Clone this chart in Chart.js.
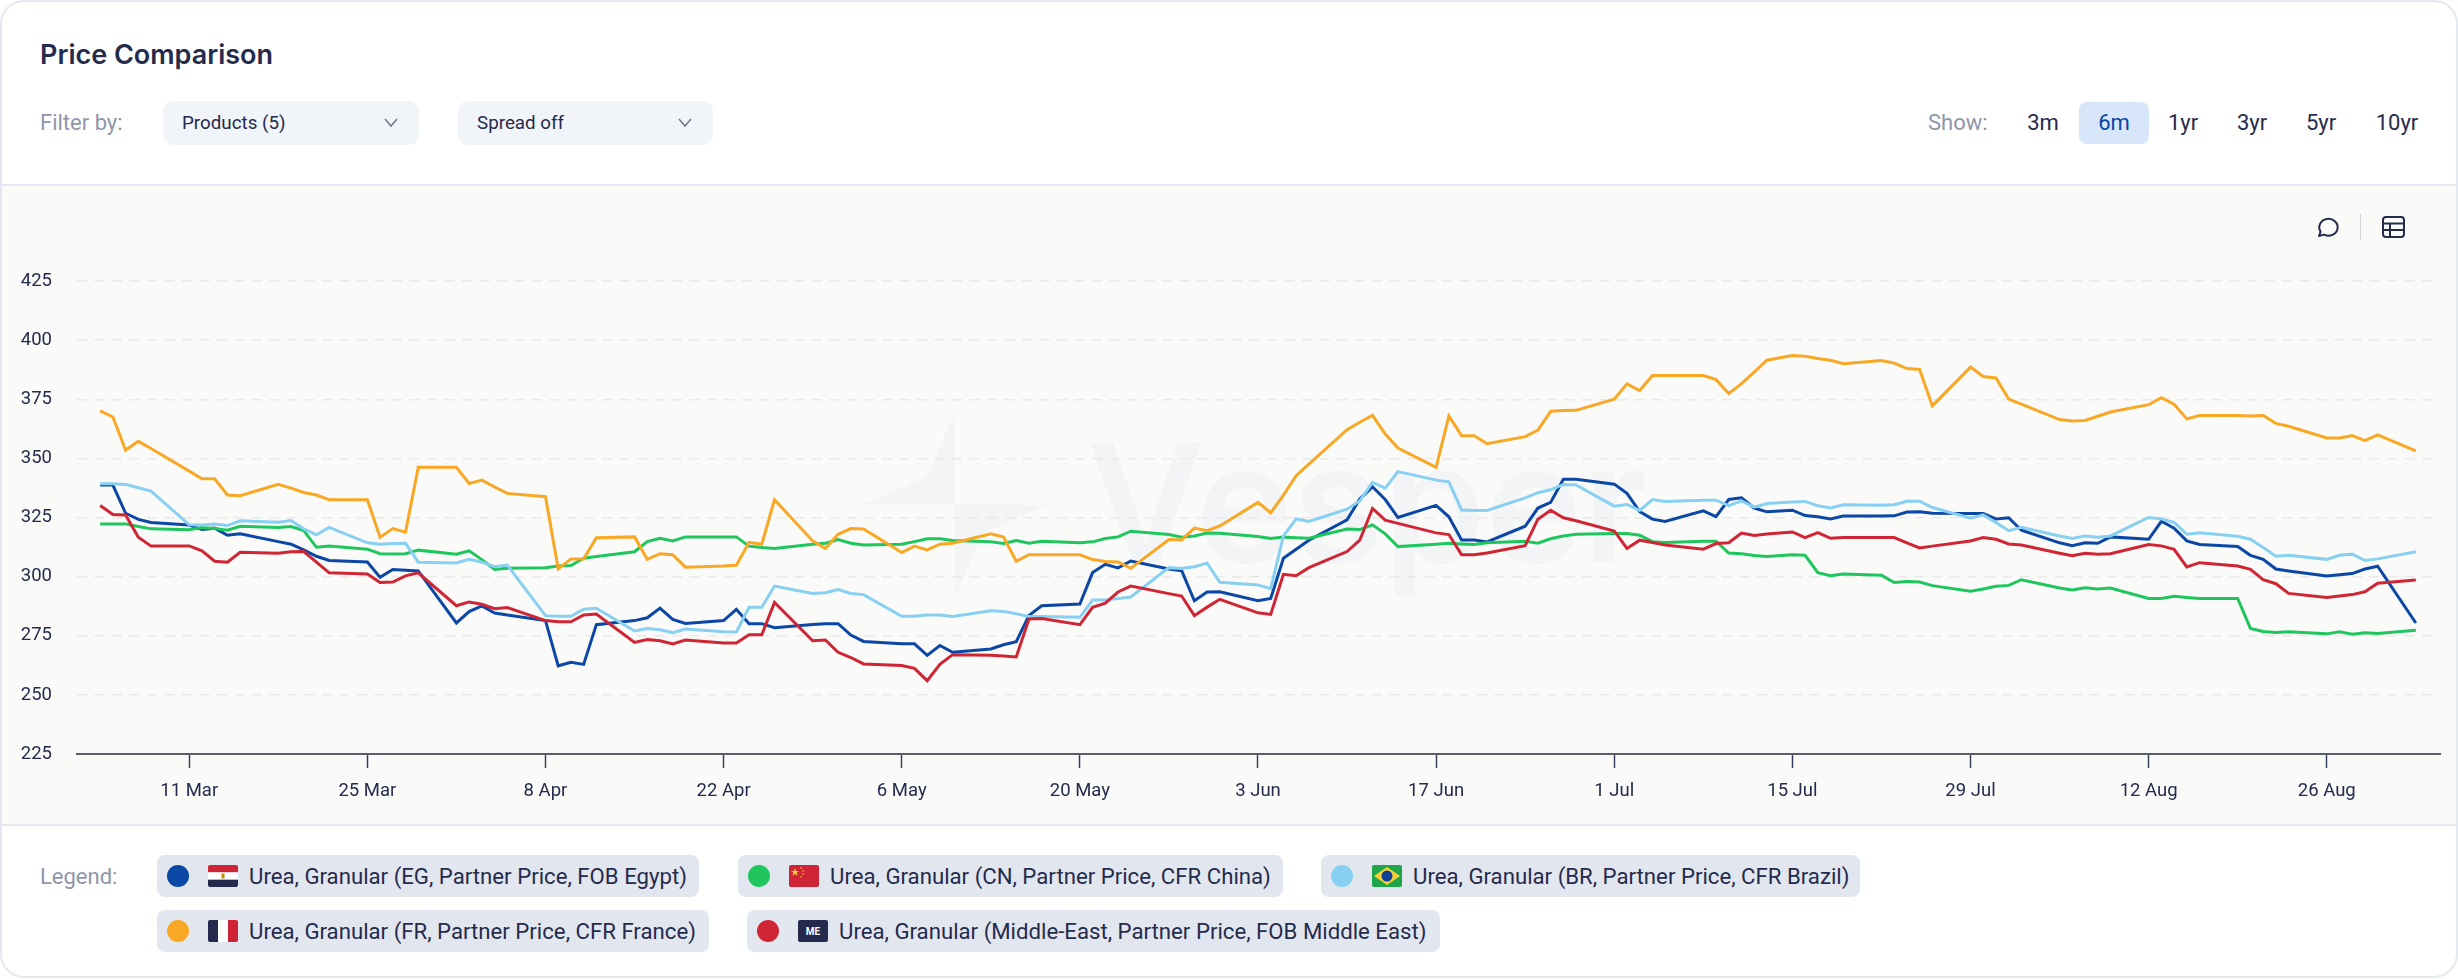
<!DOCTYPE html>
<html>
<head>
<meta charset="utf-8">
<title>Price Comparison</title>
<script src="https://cdn.jsdelivr.net/npm/chart.js"></script>
<style>
    * { box-sizing: border-box; }
    html, body { margin: 0; width: 2458px; height: 979px; background: #fff; overflow: hidden; }
    body { font-family: Roboto, sans-serif; color: #252b4d; position: relative; }
    .abs { position: absolute; white-space: nowrap; }
    #card { left: 0; top: 0; width: 2458px; height: 978px; border: 2px solid #e3e8f1; border-radius: 24px; }
    #plotBg { left: 2px; top: 184px; width: 2454px; height: 642px; background: #fafaf8; border-top: 2px solid #e3e8f1; border-bottom: 2px solid #e3e8f1; }
    #title { left: 40px; top: 38px; font: 600 27px/34px Inter, sans-serif; }
    .muted { color: #8f96ab; font-size: 22px; line-height: 28px; }
    .select { height: 44px; background: #f1f4f8; border-radius: 10px; font-size: 18.8px; line-height: 44px; padding-left: 19px; }
    .select svg { position: absolute; right: 20px; top: 17px; }
    .range { top: 102px; height: 42px; font-size: 22px; line-height: 42px; text-align: center; width: 70px; }
    .range.on { background: #d8e6f9; color: #0b47a4; border-radius: 8px; }
    .chip { height: 42px; background: #e2e6ef; border-radius: 8px; font-size: 22.2px; line-height: 42px; }
    .chip .dot { position: absolute; left: 10px; top: 10px; width: 22px; height: 22px; border-radius: 50%; }
    .chip svg { position: absolute; left: 51px; top: 10px; border-radius: 2px; }
    .chip span { position: absolute; left: 92px; }
    #watermark { left: 1086px; top: 408px; font: 600 164px/190px Inter, sans-serif; color: #f3f4f6; }
    #chartBox { left: 0; top: 185px; width: 2458px; height: 640px; }
</style>
</head>
<body>
<div class="abs" id="card"></div>
<div class="abs" id="plotBg"></div>

<div class="abs" id="title">Price Comparison</div>
<div class="abs muted" style="left:40px;top:109px">Filter by:</div>
<div class="abs select" style="left:163px;top:101px;width:256px">Products (5)
    <svg width="16" height="10" viewBox="0 0 16 10"><path d="M2 1l6 7 6-7" fill="none" stroke="#6f7690" stroke-width="1.5"/></svg></div>
<div class="abs select" style="left:458px;top:101px;width:255px">Spread off
    <svg width="16" height="10" viewBox="0 0 16 10"><path d="M2 1l6 7 6-7" fill="none" stroke="#6f7690" stroke-width="1.5"/></svg></div>

<div class="abs muted" style="left:1928px;top:109px">Show:</div>
<div class="abs range" style="left:2008px">3m</div>
<div class="abs range on" style="left:2079px">6m</div>
<div class="abs range" style="left:2148px">1yr</div>
<div class="abs range" style="left:2217px">3yr</div>
<div class="abs range" style="left:2286px">5yr</div>
<div class="abs range" style="left:2362px">10yr</div>

<div class="abs" id="watermark">Vesper</div>
<svg class="abs" style="left:850px;top:400px" width="210" height="210" viewBox="850 400 210 210">
    <path d="M955 412L927 477L862 505L955 505Z M955 505L1047 505L983 533L955 597Z" fill="#f3f4f6"/>
</svg>

<div class="abs" id="chartBox"><canvas id="graficoPrecos" width="2458" height="640"></canvas></div>

<svg class="abs" style="left:2316px;top:215px" width="24" height="24" viewBox="0 0 24 24">
    <path d="M3 21l1.6-4.4A9.2 8.4 0 1 1 8 19.6Z" fill="none" stroke="#252b4d" stroke-width="2" stroke-linejoin="round"/>
</svg>
<div class="abs" style="left:2360px;top:214px;width:1px;height:26px;background:#cfd2d6"></div>
<svg class="abs" style="left:2382px;top:216px" width="23" height="22" viewBox="0 0 23 22">
    <rect x="1" y="1" width="21" height="20" rx="3" fill="none" stroke="#252b4d" stroke-width="2"/>
    <path d="M1 7.5h21M1 14h21M8 7.5V21" fill="none" stroke="#252b4d" stroke-width="2"/>
</svg>

<div class="abs muted" style="left:40px;top:863px">Legend:</div>

<div class="abs chip" style="left:157px;top:855px;width:542px">
    <div class="dot" style="background:#0b47a4"></div>
    <svg width="30" height="22" viewBox="0 0 30 22"><rect width="30" height="7.4" fill="#ce2436"/><rect y="7.4" width="30" height="7.3" fill="#fff"/><rect y="14.7" width="30" height="7.3" fill="#232a4d"/><rect x="13.5" y="8.5" width="3" height="5" fill="#c09300"/></svg>
    <span>Urea, Granular (EG, Partner Price, FOB Egypt)</span>
</div>
<div class="abs chip" style="left:738px;top:855px;width:545px">
    <div class="dot" style="background:#1fc65d"></div>
    <svg width="30" height="22" viewBox="0 0 30 22"><rect width="30" height="22" fill="#ce2436"/><path d="M6 3l1 3 3 0-2.4 1.8.9 3L6 9l-2.500 1.800.9-3L2 6l3 0z" fill="#f7d038"/><circle cx="12" cy="3" r=".8" fill="#f7d038"/><circle cx="14" cy="6" r=".8" fill="#f7d038"/><circle cx="14" cy="9" r=".8" fill="#f7d038"/><circle cx="12" cy="12" r=".8" fill="#f7d038"/></svg>
    <span>Urea, Granular (CN, Partner Price, CFR China)</span>
</div>
<div class="abs chip" style="left:1321px;top:855px;width:539px">
    <div class="dot" style="background:#88d0f2"></div>
    <svg width="30" height="22" viewBox="0 0 30 22"><rect width="30" height="22" fill="#1fa64a"/><path d="M15 2L28 11L15 20L2 11Z" fill="#f7d038"/><circle cx="15" cy="11" r="5.500" fill="#123f96"/></svg>
    <span>Urea, Granular (BR, Partner Price, CFR Brazil)</span>
</div>
<div class="abs chip" style="left:157px;top:910px;width:552px">
    <div class="dot" style="background:#f9a825"></div>
    <svg width="30" height="22" viewBox="0 0 30 22"><rect width="10" height="22" fill="#232a4d"/><rect x="10" width="10" height="22" fill="#fff"/><rect x="20" width="10" height="22" fill="#ce2436"/></svg>
    <span>Urea, Granular (FR, Partner Price, CFR France)</span>
</div>
<div class="abs chip" style="left:747px;top:910px;width:693px">
    <div class="dot" style="background:#d02535"></div>
    <svg width="30" height="22" viewBox="0 0 30 22"><rect width="30" height="22" fill="#232a4d"/><text x="15" y="15" font-family="Roboto" font-size="10" font-weight="700" fill="#fff" text-anchor="middle">ME</text></svg>
    <span>Urea, Granular (Middle-East, Partner Price, FOB Middle East)</span>
</div>

<script>
// Dias contados a partir de 4 Mar 2024 (dias úteis, mais um sábado em julho)
const dias = [
    0, 1, 2, 3, 4, 7, 8, 9, 10, 11, 14, 15, 16, 17, 18, 21, 22, 23, 24, 25,
    28, 29, 30, 31, 32, 35, 36, 37, 38, 39, 42, 43, 44, 45, 46, 49, 50, 51, 52, 53,
    56, 57, 58, 59, 60, 63, 64, 65, 66, 67, 70, 71, 72, 73, 74, 77, 78, 79, 80, 81,
    84, 85, 86, 87, 88, 91, 92, 93, 94, 95, 98, 99, 100, 101, 102, 105, 106, 107, 108, 109,
    112, 113, 114, 115, 116, 119, 120, 121, 122, 123, 126, 127, 128, 129, 130, 131,
    133, 134, 135, 136, 137, 140, 141, 142, 143, 144, 147, 148, 149, 150, 151,
    154, 155, 156, 157, 158, 161, 162, 163, 164, 165, 168, 169, 170, 171, 172,
    175, 176, 177, 178, 179, 182
];

const tickDias = [7, 21, 35, 49, 63, 77, 91, 105, 119, 133, 147, 161, 175];
const tickLabels = ["11 Mar", "25 Mar", "8 Apr", "22 Apr", "6 May", "20 May", "3 Jun", "17 Jun", "1 Jul", "15 Jul", "29 Jul", "12 Aug", "26 Aug"];

const egito = [
    338.7, 338.7, 326.8, 324.2, 322.9, 321.8, 319.9, 320.5, 317.5, 318.1,
    314.8, 313.7, 311.3, 308.6, 306.8, 306.2, 299.7, 303, 302.7, 302.4,
    280.4, 285.2, 287.6, 284.6, 283.8, 281.4, 262.3, 263.8, 262.9, 279.7,
    281.4, 282.6, 286.7, 281.9, 280.2, 281.4, 286.2, 280.1, 280.1, 278.4,
    279.8, 280.1, 280.1, 275.3, 272.6, 271.6, 271.6, 266.7, 270.9, 268,
    269.4, 271.2, 272.5, 283.6, 287.7, 288.4, 301.7, 305.2, 303.7, 306.6,
    303.2, 302.5, 289.8, 293.5, 293.6, 289.8, 290.8, 307.8, 311.6, 315.4,
    324, 332.8, 338, 332.6, 325, 330.1, 325.3, 315.5, 315.5, 314.7,
    321.3, 329, 331.4, 341.2, 341.2, 339.1, 335.2, 327.5, 324.3, 323.3,
    327.8, 325.4, 332.6, 333.3, 329, 327.4,
    328.1, 325.8, 325.3, 324.4, 325.6, 325.6, 325.7, 327.3, 327.4, 326.8,
    326.7, 326.7, 324.4, 324.9, 319.6, 314.3, 313.1, 314.3, 314.1, 316.8,
    315.8, 323.4, 320.5, 315.1, 313.6, 312.7, 309, 307.3, 303.2, 302.4,
    300.3, 300.8, 301.3, 303.2, 304.4, 280.4
];

const china = [
    322.2, 322.2, 322.3, 321.2, 320.2, 319.8, 320.8, 320.3, 319.6, 321.3,
    320.8, 321.2, 319.5, 312.4, 312.9, 311.6, 309.7, 309.6, 309.7, 311.2,
    309.5, 310.9, 307.2, 303, 303.5, 303.8, 304.5, 304.7, 307.8, 308.5,
    310.5, 314.8, 316.2, 315.1, 316.8, 316.8, 316.8, 312.9, 312.3, 311.9,
    313.7, 314.1, 315.7, 314.1, 313.4, 313.7, 314.8, 316, 316, 315.3,
    314.7, 314, 315.3, 314.1, 315, 314.3, 314.7, 316.1, 316.8, 319.2,
    317.8, 316.7, 317.2, 318.4, 318.3, 317, 316.1, 316.7, 316.4, 316.2,
    320.1, 319.9, 321.9, 318.1, 312.7, 313.7, 314.1, 313.8, 313.6, 314.3,
    315, 314.1, 316, 317.2, 317.9, 318.2, 318.2, 317.5, 314.8, 314.4,
    315, 315, 310, 309.7, 308.9, 308.5,
    309.2, 309, 301.7, 300.4, 301.1, 300.6, 297.5, 297.9, 297.7, 296.2,
    293.8, 294.8, 295.9, 296.3, 298.7, 295.2, 294.4, 295.3, 294.8, 295.2,
    290.8, 290.8, 291.7, 291.2, 290.8, 290.8, 278.1, 276.8, 276.4, 276.7,
    275.8, 276.7, 275.6, 276.3, 276, 277.3
];

const brasil = [
    339.3, 339.3, 339, 337.6, 336.2, 321.9, 321.8, 322.2, 321.6, 323.6,
    323, 323.7, 320.2, 317.7, 320.8, 314.3, 313.7, 314, 314.1, 306.1,
    305.8, 307.3, 306.1, 304.2, 304.9, 283.5, 283.2, 283.2, 286.2, 286.6,
    277, 278.1, 277.5, 276.3, 277.8, 276.7, 276.6, 287, 287, 296,
    292.9, 293.2, 294.5, 292.9, 292.4, 283.2, 283.2, 283.8, 283.8, 283.1,
    285.6, 285.3, 284.3, 283.1, 283.1, 282.8, 290.1, 290.1, 290.7, 291.4,
    303.8, 303.4, 304.2, 305.7, 297.6, 296.5, 294.9, 317.2, 324.4, 323.3,
    328.5, 332, 339.8, 337.4, 344.4, 340.8, 340.1, 328.2, 328, 328,
    333.3, 335.5, 336.7, 339, 338.8, 329.8, 330.5, 328, 332.6, 331.8,
    332.3, 332.3, 330, 332, 329.4, 330.9,
    331.6, 331.8, 330, 329, 330.4, 330.2, 330.4, 331.9, 331.9, 329.2,
    324.7, 326.1, 322.9, 319.4, 320.9, 317.2, 316.1, 317.2, 316.7, 317.2,
    325, 324.4, 322.9, 317.9, 318.5, 317.1, 315.8, 312.3, 308.6, 309,
    307.3, 309, 309.5, 306.8, 307.5, 310.5
];

const franca = [
    370.1, 367.5, 353.5, 357.2, 354.2, 344.6, 341.4, 341.4, 334.5, 334.2,
    339, 337.4, 335.6, 334.5, 332.5, 332.5, 316.7, 320.3, 318.8, 346.2,
    346.2, 339.4, 340.8, 337.9, 335.2, 333.8, 303.3, 307.5, 307.5, 316.4,
    316.8, 307.3, 309.7, 309.3, 304, 304.5, 304.8, 314.5, 313.7, 332.5,
    315.1, 311.9, 317.9, 320.3, 320.1, 310.2, 312.9, 311.3, 313.7, 314.1,
    318.1, 316.7, 306.5, 309.3, 309.3, 309.2, 307.2, 306.4, 306.2, 303.5,
    315.7, 315.5, 320.5, 319.4, 321.4, 331.4, 327, 334.5, 342.7, 347.6,
    362.1, 365.3, 368.2, 360.3, 354.4, 346.2, 367.9, 359.6, 359.6, 356.2,
    359.2, 362, 369.9, 370.2, 370.3, 375, 381.5, 378.7, 385, 385,
    385, 383.3, 377.4, 381.6, 386.5, 391.5,
    393.5, 393.2, 392.2, 391.5, 390, 391.4, 390.3, 388, 387.6, 372.2,
    388.6, 384.6, 384, 375.1, 372.9, 366.4, 365.8, 366, 367.8, 369.6,
    372.7, 375.7, 372.9, 366.7, 368.1, 368.1, 367.9, 368.1, 364.8, 363.6,
    358.6, 358.6, 359.6, 357.5, 359.9, 353.2
];

const orienteMedio = [
    330.1, 326.3, 326.1, 316.7, 312.9, 313, 310.9, 306.5, 306.1, 310.3,
    309.9, 310.5, 310.6, 306.1, 301.6, 301.1, 297.5, 297.7, 300.3, 301.6,
    287.7, 289.3, 288.3, 286.4, 286.9, 281.4, 280.9, 280.9, 283.8, 284.2,
    272.2, 273.4, 272.9, 271.5, 273.2, 271.9, 271.9, 275.4, 275.4, 289.1,
    272.9, 273.2, 268, 265.8, 263.1, 262.4, 261.2, 256, 262.9, 267,
    266.8, 266.4, 266, 282.1, 282.3, 279.7, 287, 288.8, 293.5, 296,
    292.8, 291.8, 283.5, 287.1, 290.4, 284.7, 284, 301, 300.4, 303.8,
    310.6, 315.4, 328.8, 323.9, 322.5, 318.5, 317.8, 309.3, 309.3, 310,
    313.1, 324.3, 328.1, 324.9, 323.6, 319.3, 311.9, 315.4, 314.4, 313.4,
    311.6, 314, 314.3, 318.4, 317.4, 318,
    318.9, 316.5, 318.6, 316.2, 316.5, 316.5, 316.5, 314.3, 312.1, 312.9,
    315.1, 316.5, 315.8, 313.8, 313.4, 309.9, 308.8, 309.9, 309.5, 309.7,
    313.6, 313, 311.5, 304.1, 305.9, 304.5, 303.1, 298.7, 297, 292.9,
    291.2, 291.8, 292.4, 293.6, 297.2, 298.6
];

const pontos = (valores) => dias.map((d, i) => ({ x: d, y: valores[i] }));

function linha(label, valores, cor, ordem) {
    return {
        label: label,
        data: pontos(valores),
        borderColor: cor,
        backgroundColor: cor,
        borderWidth: 3,
        pointRadius: 0,
        tension: 0,
        order: ordem
    };
}

new Chart(document.getElementById("graficoPrecos"), {
    type: "line",
    data: {
        datasets: [
            linha("Urea, Granular (EG, Partner Price, FOB Egypt)", egito, "#0b47a4", 5),
            linha("Urea, Granular (CN, Partner Price, CFR China)", china, "#1fc65d", 4),
            linha("Urea, Granular (BR, Partner Price, CFR Brazil)", brasil, "#88d0f2", 3),
            linha("Urea, Granular (FR, Partner Price, CFR France)", franca, "#f9a825", 2),
            linha("Urea, Granular (Middle-East, Partner Price, FOB Middle East)", orienteMedio, "#d02535", 1)
        ]
    },
    options: {
        responsive: false,
        animation: false,
        layout: { padding: { top: 96, right: 18, left: 0, bottom: 0 } },
        plugins: {
            legend: { display: false },
            tooltip: { enabled: false }
        },
        scales: {
            x: {
                type: "linear",
                min: -1.82,
                max: 183.9,
                afterBuildTicks: (axis) => { axis.ticks = tickDias.map((d) => ({ value: d })); },
                afterFit: (axis) => { axis.height = 71; },
                ticks: {
                    autoSkip: false,
                    maxRotation: 0,
                    padding: 12,
                    color: "#252b4d",
                    font: { family: "Roboto", size: 18.5 },
                    callback: (value, index) => tickLabels[index]
                },
                grid: { drawOnChartArea: false, tickLength: 14, tickColor: "#3a4060", tickWidth: 1.5 },
                border: { color: "#5a5e6e", width: 2 }
            },
            y: {
                min: 225,
                max: 425,
                afterFit: (axis) => { axis.width = 77; },
                ticks: {
                    stepSize: 25,
                    padding: 25,
                    color: "#252b4d",
                    font: { family: "Roboto", size: 18.5 }
                },
                grid: { color: "#e9e9e9", lineWidth: 1.5, drawTicks: false },
                border: { display: false, dash: [10, 7.5] }
            }
        }
    }
});
</script>
</body>
</html>
